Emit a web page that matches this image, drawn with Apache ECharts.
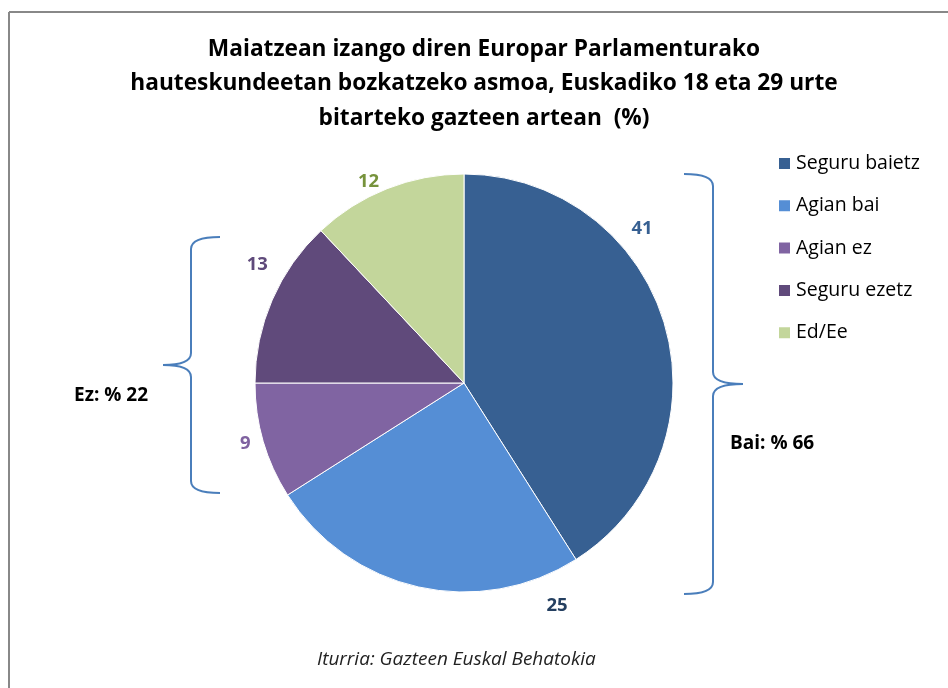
<!DOCTYPE html>
<html>
<head>
<meta charset="utf-8">
<script src="https://cdn.jsdelivr.net/npm/echarts@6/dist/echarts.min.js"></script>
<style>
  html, body { margin: 0; padding: 0; background: #fff; }
  #main { width: 948px; height: 688px; }
</style>
</head>
<body>
<div id="main"></div>
<script>
// datuak
var categories = ['Seguru baietz', 'Agian bai', 'Agian ez', 'Seguru ezetz', 'Ed/Ee'];
var values = [41, 25, 9, 13, 12];
var sliceColors = ['#376092', '#558ED5', '#8064A2', '#604A7B', '#C3D69B'];
var labelColors = ['#376092', '#243F60', '#7F62A0', '#5F4A7B', '#77933C'];

var chart = echarts.init(document.getElementById('main'));

var braceStyle = { stroke: '#4A7EBB', lineWidth: 2, fill: null };

// giltza bat: xEnd = muturrak, x = lerro bertikala, xTip = punta
function brace(xEnd, x, xTip, yTop, yMid, yBot) {
    var r = 12;
    return [
        { type: 'bezierCurve', shape: { x1: xEnd, y1: yTop, cpx1: x, cpy1: yTop, x2: x, y2: yTop + r }, style: braceStyle },
        { type: 'line', shape: { x1: x, y1: yTop + r, x2: x, y2: yMid - r }, style: braceStyle },
        { type: 'bezierCurve', shape: { x1: x, y1: yMid - r, cpx1: x, cpy1: yMid, x2: xTip, y2: yMid }, style: braceStyle },
        { type: 'bezierCurve', shape: { x1: xTip, y1: yMid, cpx1: x, cpy1: yMid, x2: x, y2: yMid + r }, style: braceStyle },
        { type: 'line', shape: { x1: x, y1: yMid + r, x2: x, y2: yBot - r }, style: braceStyle },
        { type: 'bezierCurve', shape: { x1: x, y1: yBot - r, cpx1: x, cpy1: yBot, x2: xEnd, y2: yBot }, style: braceStyle }
    ];
}

var graphics = [
    // markoa (goian eta ezkerrean)
    { type: 'line', shape: { x1: 9, y1: 12, x2: 948, y2: 12 }, style: { stroke: '#888', lineWidth: 2 } },
    { type: 'line', shape: { x1: 9, y1: 12, x2: 9, y2: 688 }, style: { stroke: '#888', lineWidth: 2 } },
    { type: 'text', left: 74, top: 386, style: { text: 'Ez: % 22', font: 'bold 19px "Open Sans"', fill: '#000' } },
    { type: 'text', left: 730, top: 434, style: { text: 'Bai: % 66', font: 'bold 19px "Open Sans"', fill: '#000' } },
    { type: 'text', left: 317, top: 650, style: { text: 'Iturria: Gazteen Euskal Behatokia', font: 'italic 19px "Open Sans"', fill: '#222' } }
].concat(brace(684, 713, 743, 174, 384, 594), brace(220, 191, 163, 237, 365, 493));

var option = {
    backgroundColor: '#fff',
    title: {
        text: 'Maiatzean izango diren Europar Parlamenturako\nhauteskundeetan bozkatzeko asmoa, Euskadiko 18 eta 29 urte\nbitarteko gazteen artean  (%)',
        left: 479,
        textAlign: 'center',
        top: 27,
        textStyle: {
            fontFamily: 'Open Sans',
            fontWeight: 'bold',
            fontSize: 22.7,
            lineHeight: 34.5,
            color: '#000'
        }
    },
    legend: {
        orient: 'vertical',
        left: 777,
        top: 153.5,
        padding: 0,
        itemWidth: 13,
        itemHeight: 13,
        itemGap: 22.3,
        icon: 'rect',
        data: categories,
        textStyle: { fontFamily: 'Open Sans', fontSize: 19.5, color: '#000', padding: [0, 0, 0, 0] }
    },
    series: [{
        type: 'pie',
        center: [464, 383],
        radius: 209,
        startAngle: 90,
        clockwise: true,
        animation: false,
        silent: true,
        itemStyle: { borderColor: '#fff', borderWidth: 1 },
        label: {
            show: true,
            position: 'outside',
            formatter: '{c}',
            fontFamily: 'Open Sans',
            fontWeight: 'bold',
            fontSize: 18.5
        },
        labelLine: { show: false, length: 8, length2: 0 },
        // Excel-ek etiketa batzuk mugitu zituen
        labelLayout: function (params) {
            var shift = { 0: [-46, -94], 1: [156, 11], 3: [8, -32] }[params.dataIndex];
            return shift ? { dx: shift[0], dy: shift[1] } : {};
        },
        data: categories.map(function (name, i) {
            return {
                name: name,
                value: values[i],
                itemStyle: { color: sliceColors[i] },
                label: { color: labelColors[i] }
            };
        })
    }],
    graphic: graphics
};

chart.setOption(option);
</script>
</body>
</html>
